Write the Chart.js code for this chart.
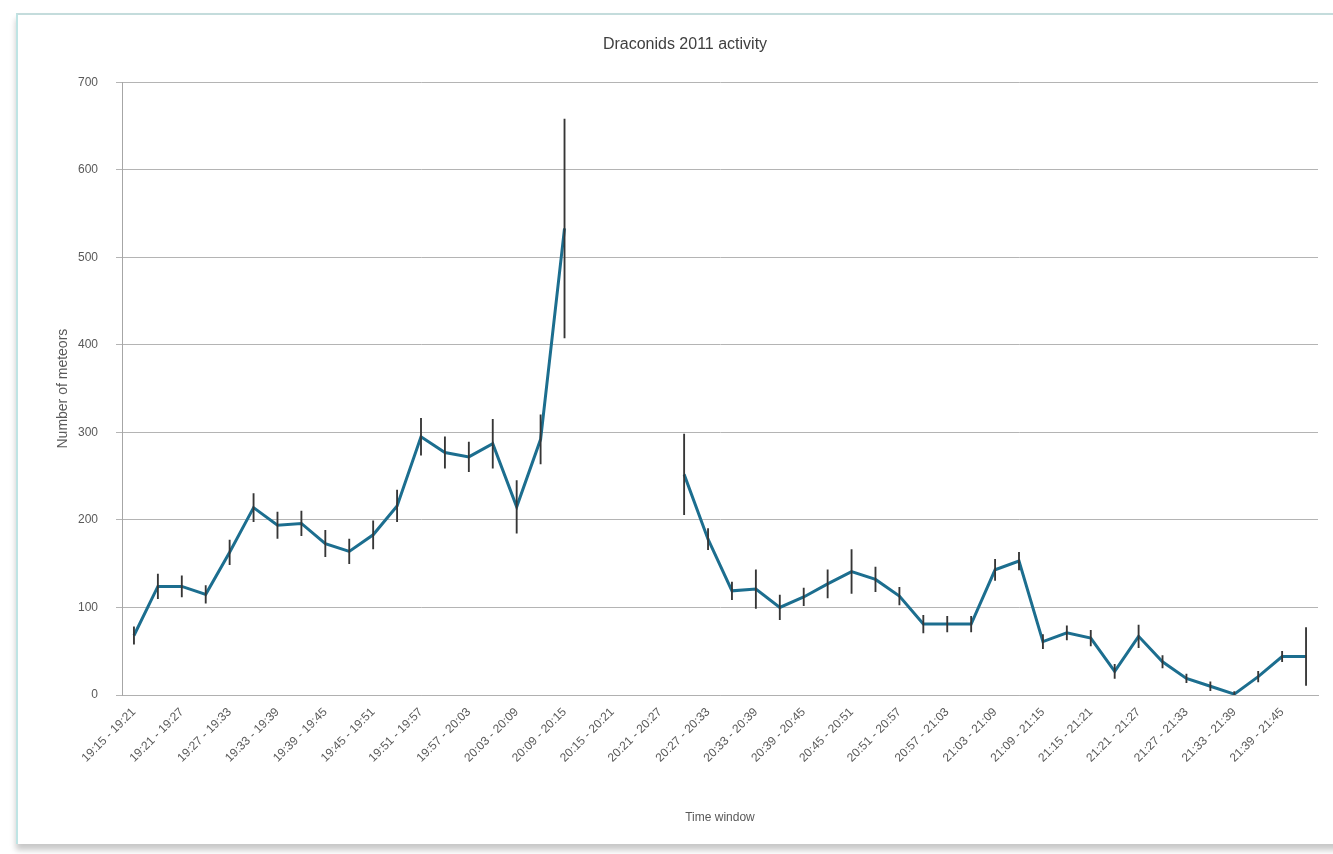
<!DOCTYPE html>
<html>
<head>
<meta charset="utf-8">
<title>Draconids 2011 activity</title>
<script src="https://cdn.jsdelivr.net/npm/chart.js@4.4.1/dist/chart.umd.min.js"></script>
<style>
  html, body { margin: 0; padding: 0; background: #ffffff; }
  body { width: 1333px; height: 854px; position: relative; overflow: hidden; }
  #frame {
    position: absolute;
    left: 16px; top: 13px; width: 1330px; height: 829px;
    border-top: 2px solid #c4dcdc;
    border-left: 2px solid #bfe4e4;
    box-shadow: 0 6px 6px #c8c8c8;
    background: #ffffff;
  }
  #wrap { position: absolute; left: 0; top: 0; width: 1333px; height: 854px; }
</style>
</head>
<body>
<div id="frame"></div>
<div id="wrap"><canvas id="chart" width="1333" height="854"></canvas></div>
<script>
// 6-minute windows, sliding every 3 minutes
const timeWindows = [
  "19:15 - 19:21", "19:18 - 19:24", "19:21 - 19:27", "19:24 - 19:30",
  "19:27 - 19:33", "19:30 - 19:36", "19:33 - 19:39", "19:36 - 19:42",
  "19:39 - 19:45", "19:42 - 19:48", "19:45 - 19:51", "19:48 - 19:54",
  "19:51 - 19:57", "19:54 - 20:00", "19:57 - 20:03", "20:00 - 20:06",
  "20:03 - 20:09", "20:06 - 20:12", "20:09 - 20:15", "20:12 - 20:18",
  "20:15 - 20:21", "20:18 - 20:24", "20:21 - 20:27", "20:24 - 20:30",
  "20:27 - 20:33", "20:30 - 20:36", "20:33 - 20:39", "20:36 - 20:42",
  "20:39 - 20:45", "20:42 - 20:48", "20:45 - 20:51", "20:48 - 20:54",
  "20:51 - 20:57", "20:54 - 21:00", "20:57 - 21:03", "21:00 - 21:06",
  "21:03 - 21:09", "21:06 - 21:12", "21:09 - 21:15", "21:12 - 21:18",
  "21:15 - 21:21", "21:18 - 21:24", "21:21 - 21:27", "21:24 - 21:30",
  "21:27 - 21:33", "21:30 - 21:36", "21:33 - 21:39", "21:36 - 21:42",
  "21:39 - 21:45", "21:42 - 21:48"
];

const meteorCounts = [
  68, 124, 124, 115, 163, 214, 194, 196, 173, 164,
  183, 216, 295, 277, 272, 287, 215, 292, 533, null,
  null, null, null, 252, 178, 119, 121, 100, 112, 127,
  141, 132, 113, 81, 81, 81, 143, 153, 61, 71,
  65, 27, 67, 38, 19, 10, 1, 21, 44, 44
];

// +/- error for each window
const meteorErrors = [
  10, 14, 12, 10, 14, 16, 15, 14, 15, 14,
  16, 18, 21, 18, 17, 28, 30, 28, 125, null,
  null, null, null, 46, 12, 10, 22, 14, 10, 16,
  25, 14, 10, 10, 9, 9, 12, 10, 8, 8,
  9, 8, 13, 7, 5, 5, 3, 6, 6, 33
];

const yTicks = [0, 100, 200, 300, 400, 500, 600, 700];

const FONT = "'Liberation Sans', Arial, sans-serif";
const TEXT_COLOR = "#595959";

// error bars as thin floating bars [low, high]
const errorRanges = meteorCounts.map((v, i) =>
  v === null ? null : [Math.max(0, v - meteorErrors[i]), v + meteorErrors[i]]
);

new Chart(document.getElementById("chart"), {
  data: {
    labels: timeWindows,
    datasets: [
      {
        type: "bar",
        label: "Error",
        data: errorRanges,
        backgroundColor: "#363636",
        barThickness: 1.2,
        order: 0,
      },
      {
        type: "line",
        label: "Number of meteors",
        data: meteorCounts,
        borderColor: "#1c6e8f",
        borderWidth: 3,
        pointRadius: 0,
        tension: 0,
        spanGaps: false,
        order: 1,
      },
    ],
  },
  options: {
    responsive: false,
    animation: false,
    layout: { padding: { left: 52, right: 15, top: 0, bottom: 18 } },
    plugins: {
      legend: { display: false },
      tooltip: { enabled: false },
      title: {
        display: true,
        text: "Draconids 2011 activity",
        color: "#404040",
        font: { size: 16, family: FONT, weight: "normal" },
        padding: { top: 35, bottom: 28 },
      },
    },
    scales: {
      x: {
        grid: { display: false },
        border: { display: true, color: "#b0b0b0" },
        afterFit: (scale) => { scale.height = 854 - 18 - 695; },
        ticks: {
          autoSkip: false,
          maxRotation: 45,
          minRotation: 45,
          padding: 2,
          color: TEXT_COLOR,
          font: { size: 12, family: FONT },
          // Excel showed every second window
          callback: function (value, index) {
            return index % 2 === 0 ? this.getLabelForValue(value) : "";
          },
        },
        title: {
          display: true,
          text: "Time window",
          color: TEXT_COLOR,
          font: { size: 12, family: FONT },
          padding: { top: 4, bottom: 11 },
        },
      },
      y: {
        min: 0,
        max: 700,
        afterFit: (scale) => { scale.width = 70; },
        afterBuildTicks: (scale) => { scale.ticks = yTicks.map((v) => ({ value: v })); },
        grid: { color: "#b4b4b4", lineWidth: 1, tickLength: 6 },
        border: { display: true, color: "#a6a6a6" },
        ticks: {
          padding: 18,
          color: TEXT_COLOR,
          font: { size: 12, family: FONT },
        },
        title: {
          display: true,
          text: "Number of meteors",
          color: TEXT_COLOR,
          font: { size: 14, family: FONT },
          padding: { top: 3, bottom: 4 },
        },
      },
    },
  },
});
</script>
</body>
</html>
